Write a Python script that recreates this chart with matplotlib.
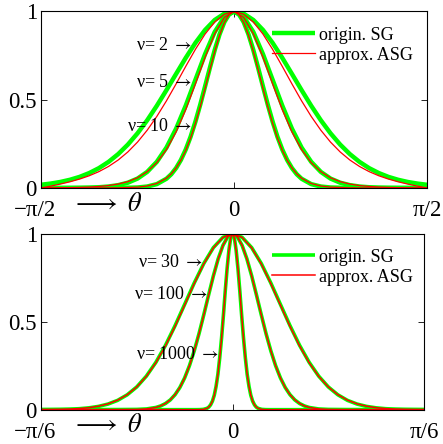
import numpy as np
import matplotlib
matplotlib.use('Agg')
import matplotlib.pyplot as plt
import matplotlib.transforms as mtransforms

plt.rcParams['font.family'] = ['Liberation Serif', 'DejaVu Serif']
plt.rcParams['mathtext.fontset'] = 'stix'

# curves are symmetric: values for theta >= 0 (degrees), mirrored when drawn
# top panel
deg_top = [0, 4.5, 9, 13.5, 18, 22.5, 27, 31.5, 36, 40.5, 45, 49.5, 54, 58.5,
           63, 67.5, 72, 76.5, 81, 85.5, 90]
sg_2 = [1, .9878, .9520, .8954, .8222, .7375, .6466, .5547, .4659, .3835, .3099,
        .2461, .1923, .1481, .1126, .0847, .0630, .0466, .0342, .0251, .0183]
asg_2 = [1, .9847, .9405, .8720, .7857, .6893, .5900, .4939, .4054, .3271, .2601,
         .2043, .1587, .1221, .0928, .0694, .0506, .0352, .0222, .0107, 0]
sg_5 = [1, .9697, .8842, .7586, .6130, .4671, .3363, .2291, .1481, .0911, .0534,
        .0300, .0162, .0084, .0043, .0021, .0010, .0005, .0002, .0001, 0]
asg_5 = [1, .9667, .8739, .7404, .5900, .4442, .3179, .2177, .1438, .0923, .0580,
         .0361, .0223, .0138, .0086, .0054, .0034, .0021, .0012, .0005, 0]
deg_top10 = [0, 2.25, 4.5, 6.75, 9, 11.25, 13.5, 15.75, 18, 20.25, 22.5, 24.75,
             27, 29.25, 31.5, 36, 40.5, 45, 54, 63, 72, 81, 90]
sg_10 = [1, .9847, .9403, .8705, .7818, .6810, .5755, .4720, .3758, .2905, .2182,
         .1593, .1131, .0781, .0525, .0219, .0083, .0029, .0003, 0, 0, 0, 0]
asg_10 = [1, .9839, .9375, .8649, .7733, .6703, .5638, .4607, .3660, .2832, .2136,
          .1574, .1135, .0801, .0556, .0256, .0112, .0048, .0008, .0002, 0, 0, 0]

# bottom panel
deg_bot30 = [0, 1.5, 3, 4.5, 6, 7.5, 9, 10.5, 12, 13.5, 15, 16.5, 18, 19.5, 21,
             22.5, 24, 25.5, 27, 28.5, 30]
sg_30 = [1, .9796, .9211, .8311, .7199, .5985, .4777, .3661, .2695, .1906, .1294,
         .0845, .0530, .0320, .0186, .0104, .0056, .0029, .0014, .0007, .0003]
asg_30 = [1, .9793, .9199, .8288, .7167, .5947, .4740, .3630, .2674, .1896, .1295,
          .0853, .0542, .0333, .0198, .0114, .0064, .0035, .0018, .0009, .0005]
deg_bot100 = [0, .75, 1.5, 2.25, 3, 3.75, 4.5, 5.25, 6, 6.75, 7.5, 8.25, 9, 9.75,
              10.5, 11.25, 12, 13.5, 15, 18, 21, 24, 27, 30]
sg_100 = [1, .9830, .9337, .8571, .7604, .6517, .5398, .4322, .3344, .2500, .1807,
          .1262, .0852, .0556, .0351, .0214, .0126, .0040, .0011, .0001, 0, 0, 0, 0]
asg_100 = [1, .9829, .9335, .8565, .7594, .6506, .5387, .4311, .3335, .2495, .1805,
           .1263, .0855, .0560, .0355, .0218, .0130, .0042, .0012, .0001, 0, 0, 0, 0]
deg_bot1000 = [0, .29, .57, .86, 1.15, 1.43, 1.72, 2.01, 2.29, 2.58, 2.86, 3.15,
               3.44, 3.72, 4.01, 4.58, 5.16, 5.73, 30]
sg_1000 = [1, .9753, .9048, .7985, .6703, .5353, .4066, .2938, .2019, .1320, .0821,
           .0486, .0273, .0146, .0075, .0017, .0003, 0, 0]
asg_1000 = [1, .9753, .9048, .7984, .6702, .5351, .4065, .2937, .2018, .1321, .0821,
            .0486, .0274, .0147, .0075, .0017, .0003, 0, 0]

top_curves = [(deg_top, sg_2, asg_2), (deg_top, sg_5, asg_5), (deg_top10, sg_10, asg_10)]
bot_curves = [(deg_bot30, sg_30, asg_30), (deg_bot100, sg_100, asg_100),
              (deg_bot1000, sg_1000, asg_1000)]
top_labels = [('ν= 2', 0.805), ('ν= 5', 0.595), ('ν= 10', 0.346)]
bot_labels = [('ν= 30', -0.0801, 0.834), ('ν= 100', -0.0664, 0.657),
              ('ν= 1000', -0.0364, 0.311)]


def mirror(deg, vals):
    t = np.deg2rad(deg)
    v = np.asarray(vals, dtype=float)
    return np.concatenate([-t[::-1], t[1:]]), np.concatenate([v[::-1], v[1:]])


fig = plt.figure(figsize=(4.43, 4.44), dpi=100)
ax1 = fig.add_axes([0.0926, 0.5766, 0.8713, 0.3975])
ax2 = fig.add_axes([0.0926, 0.0773, 0.8646, 0.3963])

green = '#00ff00'
red = '#ff0000'


def draw(ax, curves, lim, den, gw, rw, legx):
    handles = []
    for deg, sg, asg in curves:
        x, y = mirror(deg, sg)
        h, = ax.plot(x, y, color=green, lw=gw, solid_capstyle='butt')
        handles.append(h)
    for deg, sg, asg in curves:
        x, y = mirror(deg, asg)
        h2, = ax.plot(x, y, color=red, lw=rw)
    ax.set_xlim(-lim, lim)
    ax.set_ylim(0, 1)
    ax.set_xticks([-lim, 0, lim])
    ax.set_xticklabels(['−π/' + den, '0', 'π/' + den])
    ax.set_yticks([0, 0.5, 1])
    ax.set_yticklabels(['0', '0.5', '1'])
    ax.tick_params(direction='in', top=True, right=True, length=4, width=0.6,
                   labelsize=16.5)
    ax.tick_params(axis='x', pad=8.8)
    ax.tick_params(axis='y', pad=3)
    for s in ax.spines.values():
        s.set_linewidth(0.8)
    off = mtransforms.ScaledTranslation(-6.5 / 100, 0, fig.dpi_scale_trans)
    lab = ax.get_xticklabels()[0]
    lab.set_transform(lab.get_transform() + off)
    ax.text(0.080, -0.092, r'$\longrightarrow\ \theta$', transform=ax.transAxes,
            fontsize=19, va='center', ha='left')
    ax.legend([handles[0], h2], ['origin. SG', 'approx. ASG'], loc='upper left',
              bbox_to_anchor=(legx, 0.915), frameon=False, fontsize=13,
              handlelength=2.4, handletextpad=0.2, labelspacing=0.17,
              borderpad=0, borderaxespad=0)


draw(ax1, top_curves, np.pi / 2, '2', 3.2, 0.9, 0.598)
draw(ax2, bot_curves, np.pi / 6, '6', 2.6, 1.1, 0.603)

for txt, yv in top_labels:
    ax1.text(-0.3361, yv, txt + r' $\rightarrow$', ha='right', va='center',
             fontsize=13, zorder=5)
for txt, xv, yv in bot_labels:
    ax2.text(xv, yv, txt + r' $\rightarrow$', ha='right', va='center',
             fontsize=13, zorder=5)

fig.savefig('out.png', dpi=100)
